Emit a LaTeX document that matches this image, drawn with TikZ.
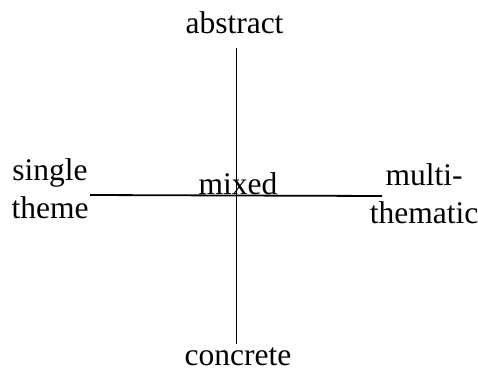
\documentclass[tikz,border=0pt]{standalone}
\usepackage{fontspec}
\setmainfont{Liberation Serif}
\begin{document}
\begin{tikzpicture}[x=1pt,y=-1pt,
  lbl/.style={font=\fontsize{31.5}{38}\selectfont, inner sep=0pt, align=center, anchor=base},
  axisline/.style={line width=1.8pt}]
\useasboundingbox (0,0) rectangle (478,372);
\node[lbl] (abstract) at (234.5,33) {abstract};
\node[lbl] (concrete) at (238,365) {concrete};
\node[lbl] (single) at (50,218) {single\\theme};
\node[lbl] (multi) at (424,223) {multi-\\thematic};
\node[lbl] (mixed) at (238,194.5) {mixed};
\coordinate (top) at (236.5,48);
\coordinate (bottom) at (236.5,344);
\coordinate (left) at (90,195);
\coordinate (right) at (382,196);
\draw[axisline] (top) -- (bottom);
\draw[axisline] (left) -- (right);
\end{tikzpicture}
\end{document}
